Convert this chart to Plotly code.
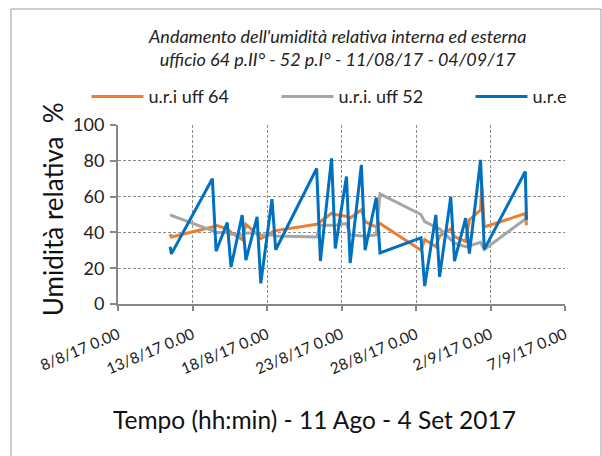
import plotly.graph_objects as go

# sampling times (readings around 8:00 and 14:00 on working days)
times = [
    "2017-08-11 12:00", "2017-08-11 14:00",
    "2017-08-14 08:00", "2017-08-14 14:00",
    "2017-08-15 08:00", "2017-08-15 14:00",
    "2017-08-16 08:00", "2017-08-16 14:00",
    "2017-08-17 08:00", "2017-08-17 14:00",
    "2017-08-18 08:00", "2017-08-18 14:00",
    "2017-08-21 08:00", "2017-08-21 14:00",
    "2017-08-22 08:00", "2017-08-22 14:00",
    "2017-08-23 08:00", "2017-08-23 14:00",
    "2017-08-24 08:00", "2017-08-24 14:00",
    "2017-08-25 08:00", "2017-08-25 14:00",
    "2017-08-28 08:00", "2017-08-28 14:00",
    "2017-08-29 08:00", "2017-08-29 14:00",
    "2017-08-30 08:00", "2017-08-30 14:00",
    "2017-08-31 08:00", "2017-08-31 14:00",
    "2017-09-01 08:00", "2017-09-01 10:00", "2017-09-01 14:00",
    "2017-09-04 08:00", "2017-09-04 10:00",
]

# u.r.i uff 64 (orange)
uri_64 = [39, 37.5, 43, 44, 42, 40, 36, 44.5, 39, 36.5, 40, 41,
          44.5, 46, 50.7, 50, 49, 48, 52.6, 46, 43, 45,
          30, 36, 32, 38, 42, 37.7, 35, 47, 52.6, 66.5, 43, 50.5, 44]

# u.r.i. uff 52 (gray)
uri_52 = [50, 49.5, 41, 40, 40, 39, 38.6, 39.6, 39.6, 38.6, 38.6, 38,
          37.5, 44, 44, 44, 45, 38.6, 38, 38, 38.6, 61.5,
          50, 46, 43, 42, 36, 34, 32, 32.5, 34.5, None, 30.5, 47.5, 46]

# u.r.e (blue, outdoor)
ure = [32, 28, 70, 29.5, 45.5, 20.6, 49.7, 24.5, 48.7, 11.5, 58.6, 30.3,
       75.7, 24, 81.4, 31, 71.2, 22.9, 77.7, 30, 59.5, 28.5,
       37, 10, 49.8, 15.2, 60, 24, 48, 28.2, 80.5, None, 30.5, 74, 47]

series = [
    ("u.r.i uff 64", uri_64, "#ED7D31", "legend"),
    ("u.r.i. uff 52", uri_52, "#A5A5A5", "legend2"),
    ("u.r.e", ure, "#0070C0", "legend3"),
]

tick_dates = ["2017-08-08", "2017-08-13", "2017-08-18", "2017-08-23",
              "2017-08-28", "2017-09-02", "2017-09-07"]

FONT = "Lato, 'Open Sans', sans-serif"

fig = go.Figure()
for name, values, color, leg in series:
    fig.add_trace(go.Scatter(
        x=times, y=values, mode="lines", name=name,
        connectgaps=True, legend=leg,
        line=dict(color=color, width=3),
    ))


def legend_box(x):
    return dict(
        orientation="h", x=x, y=1.158, xanchor="left", yanchor="middle",
        font=dict(size=18, color="#222222"), itemwidth=52,
        bgcolor="rgba(0,0,0,0)",
    )


fig.update_layout(
    width=602, height=456,
    margin=dict(l=118, r=37, t=125, b=152, autoexpand=False),
    paper_bgcolor="white", plot_bgcolor="white",
    font=dict(family=FONT, color="#222222"),
    showlegend=True,
    legend=legend_box(-0.0705),
    legend2=legend_box(0.3546),
    legend3=legend_box(0.7886),
)

fig.update_xaxes(
    range=["2017-08-08", "2017-09-07"],
    tickvals=tick_dates,
    tickformat="%-d/%-m/%y %-H.%M",
    tickangle=-23,
    tickfont=dict(size=15.5, color="#222222"),
    ticklabelshift=0, ticklabelstandoff=9,
    ticks="outside", ticklen=5, tickcolor="#868686", tickwidth=1.5,
    showline=True, linecolor="#868686", linewidth=2,
    showgrid=True, gridcolor="#8c8c8c", gridwidth=1, griddash="3px,2px",
    zeroline=False,
)
fig.update_yaxes(
    range=[0, 100], dtick=20,
    tickfont=dict(size=18, color="#222222"),
    ticklabelstandoff=2,
    ticks="outside", ticklen=6, tickcolor="#868686", tickwidth=1.5,
    showline=True, linecolor="#868686", linewidth=2,
    showgrid=True, gridcolor="#8c8c8c", gridwidth=1, griddash="3px,2px",
    zeroline=False,
)

# chart title (two italic lines)
fig.add_annotation(
    text="<i>Andamento dell'umidità relativa interna ed esterna<br>"
         "ufficio 64 p.II° - 52 p.I° - 11/08/17 - 04/09/17</i>",
    xref="paper", yref="paper", x=0.49, y=1.433,
    xanchor="center", yanchor="middle", showarrow=False,
    font=dict(size=18, color="#222222"),
)

# axis titles placed as in the original
fig.add_annotation(
    text="Umidità relativa  %", textangle=-90,
    xref="paper", yref="paper", x=-0.145, y=0.531,
    xanchor="center", yanchor="middle", showarrow=False,
    font=dict(size=26, color="#111111"),
)
fig.add_annotation(
    text="Tempo (hh:min) - 11 Ago - 4 Set 2017",
    xref="paper", yref="paper", x=0.439, y=-0.645,
    xanchor="center", yanchor="middle", showarrow=False,
    font=dict(size=24.5, color="#111111"),
)

# chart frame
fig.add_shape(
    type="rect", xref="paper", yref="paper",
    x0=-0.2394, x1=1.0805, y0=-0.9, y1=1.648,
    line=dict(color="#a0a0a0", width=1),
)

# drop the default page margin so the figure sits at the window origin
fig.write_html(
    "out.html",
    config={"displayModeBar": False},
    post_script="document.body.style.margin='0';",
)
